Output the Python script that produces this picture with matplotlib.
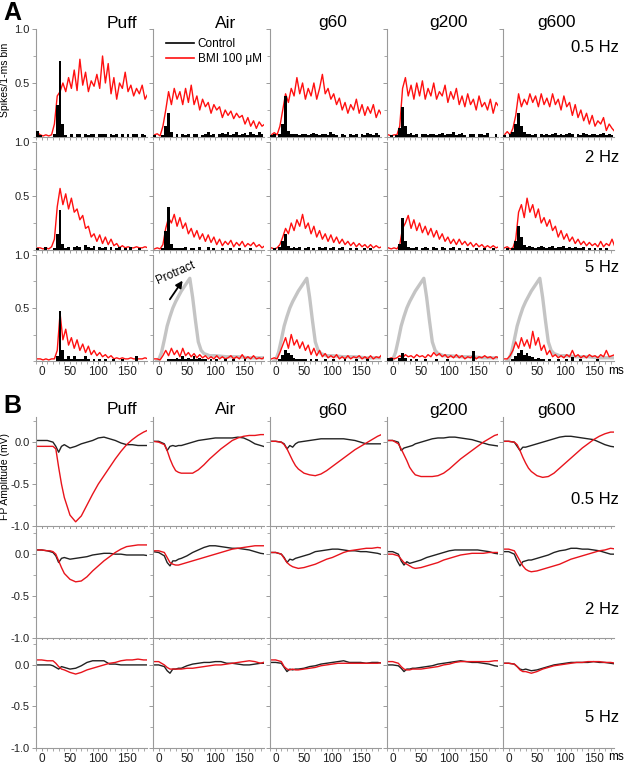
import numpy as np
import matplotlib
matplotlib.use("Agg")
import matplotlib.pyplot as plt
from matplotlib.ticker import MultipleLocator

plt.rcParams['font.family'] = ['Liberation Sans', 'DejaVu Sans']

stims = ["Puff", "Air", "g60", "g200", "g600"]
freqs = ["0.5 Hz", "2 Hz", "5 Hz"]

# ---- Panel A: PSTH, 5-ms bins starting at -10 ms (spikes per 1-ms bin) ----
bins = np.arange(-10, 190, 5)

bmi_05 = [
    [0.04,0.02,0.01,0.02,0.01,0.02,0.12,0.38,0.42,0.5, 0.42,0.55,0.45,0.62,0.43,0.72,0.48,0.6,0.42,0.52,
     0.47,0.58,0.45,0.75,0.5,0.68,0.4,0.55,0.35,0.5, 0.45,0.6,0.42,0.48,0.38,0.45,0.4,0.48,0.35,0.4],
    [0.02,0.03,0.01,0.1,0.25,0.42,0.3,0.45,0.35,0.42, 0.3,0.45,0.32,0.48,0.3,0.38,0.25,0.35,0.28,0.32,
     0.22,0.3,0.25,0.28,0.18,0.25,0.2,0.24,0.17,0.22, 0.18,0.2,0.12,0.18,0.1,0.15,0.08,0.14,0.1,0.12],
    [0.02,0.04,0.02,0.1,0.25,0.4,0.32,0.45,0.38,0.55, 0.4,0.5,0.35,0.45,0.38,0.5,0.35,0.45,0.58,0.4,
     0.45,0.35,0.4,0.3,0.36,0.25,0.32,0.22,0.3,0.25, 0.35,0.22,0.3,0.2,0.28,0.22,0.3,0.18,0.25,0.2],
    [0.02,0.01,0.02,0.02,0.1,0.45,0.55,0.38,0.48,0.35, 0.5,0.38,0.52,0.35,0.45,0.38,0.5,0.35,0.42,0.38,
     0.48,0.32,0.42,0.35,0.45,0.3,0.38,0.28,0.4,0.3, 0.35,0.25,0.38,0.28,0.32,0.25,0.35,0.22,0.32,0.28],
    [0.02,0.05,0.02,0.08,0.2,0.4,0.28,0.35,0.3,0.4, 0.32,0.38,0.28,0.4,0.3,0.36,0.28,0.4,0.3,0.35,
     0.25,0.38,0.28,0.32,0.2,0.3,0.18,0.25,0.15,0.22, 0.12,0.2,0.1,0.15,0.12,0.18,0.06,0.12,0.08,0.05],
]
bmi_2 = [
    [0.02,0.02,0.01,0.02,0.01,0.03,0.1,0.4,0.57,0.42, 0.52,0.38,0.48,0.35,0.38,0.28,0.32,0.2,0.22,0.12,
     0.15,0.08,0.14,0.06,0.12,0.05,0.1,0.04,0.06,0.02, 0.04,0.02,0.03,0.02,0.02,0.03,0.02,0.02,0.03,0.02],
    [0.01,0.02,0.01,0.05,0.2,0.3,0.25,0.33,0.22,0.3, 0.2,0.25,0.15,0.2,0.12,0.18,0.1,0.15,0.08,0.14,
     0.07,0.12,0.05,0.1,0.04,0.08,0.05,0.09,0.03,0.07, 0.04,0.08,0.03,0.06,0.04,0.07,0.03,0.05,0.02,0.04],
    [0.02,0.01,0.02,0.05,0.12,0.2,0.15,0.25,0.18,0.28, 0.22,0.33,0.2,0.25,0.15,0.22,0.12,0.18,0.1,0.15,
     0.08,0.14,0.07,0.12,0.06,0.1,0.05,0.08,0.04,0.07, 0.03,0.06,0.03,0.05,0.02,0.05,0.02,0.04,0.02,0.03],
    [0.02,0.01,0.02,0.01,0.05,0.2,0.25,0.32,0.2,0.28, 0.18,0.25,0.16,0.22,0.14,0.2,0.12,0.18,0.1,0.15,
     0.08,0.12,0.06,0.1,0.05,0.1,0.05,0.08,0.04,0.07, 0.03,0.06,0.03,0.05,0.02,0.04,0.02,0.04,0.02,0.03],
    [0.02,0.03,0.01,0.02,0.1,0.35,0.42,0.3,0.48,0.35, 0.42,0.3,0.38,0.25,0.3,0.22,0.28,0.18,0.22,0.12,
     0.18,0.1,0.15,0.08,0.12,0.06,0.1,0.05,0.08,0.04, 0.07,0.04,0.06,0.03,0.08,0.03,0.06,0.04,0.1,0.03],
]
bmi_5 = [
    [0.02,0.02,0.01,0.02,0.01,0.02,0.02,0.1,0.45,0.2, 0.3,0.15,0.22,0.12,0.2,0.1,0.16,0.08,0.14,0.06,
     0.1,0.05,0.08,0.04,0.06,0.03,0.05,0.02,0.03,0.02, 0.03,0.02,0.02,0.03,0.02,0.02,0.02,0.02,0.03,0.02],
    [0.02,0.02,0.01,0.05,0.1,0.05,0.12,0.06,0.1,0.04, 0.12,0.05,0.08,0.04,0.07,0.03,0.06,0.03,0.05,0.02,
     0.04,0.02,0.05,0.02,0.04,0.02,0.03,0.05,0.02,0.04, 0.02,0.06,0.02,0.04,0.02,0.05,0.02,0.03,0.02,0.04],
    [0.02,0.03,0.02,0.08,0.15,0.22,0.12,0.25,0.15,0.2, 0.12,0.18,0.1,0.15,0.06,0.12,0.05,0.1,0.04,0.07,
     0.03,0.05,0.03,0.06,0.02,0.04,0.02,0.05,0.02,0.04, 0.03,0.05,0.02,0.04,0.02,0.05,0.02,0.04,0.03,0.06],
    [0.02,0.03,0.02,0.03,0.05,0.03,0.06,0.04,0.05,0.03, 0.06,0.04,0.05,0.03,0.06,0.04,0.08,0.05,0.07,0.04,
     0.06,0.03,0.05,0.03,0.06,0.03,0.05,0.02,0.04,0.03, 0.05,0.02,0.04,0.03,0.05,0.03,0.04,0.02,0.04,0.03],
    [0.02,0.02,0.05,0.1,0.18,0.12,0.22,0.14,0.2,0.12, 0.28,0.15,0.22,0.1,0.15,0.06,0.1,0.04,0.06,0.03,
     0.05,0.03,0.06,0.04,0.1,0.04,0.06,0.03,0.05,0.03, 0.06,0.04,0.05,0.03,0.06,0.04,0.1,0.04,0.05,0.06],
]
ctl_05 = [
    [0.06,0.02,0,0,0,0,0.03,0.3,0.7,0.12, 0.02,0,0.03,0,0.03,0.03,0,0.03,0.02,0.03,
     0.03,0,0.03,0.03,0.03,0,0.03,0.02,0.03,0, 0.03,0,0.03,0,0.03,0.03,0,0.03,0.02,0.06],
    [0.02,0,0,0.02,0.1,0.22,0.05,0,0.03,0, 0.03,0.02,0.03,0,0.03,0.03,0,0.02,0.03,0.05,
     0.02,0.03,0,0.03,0.04,0.03,0.05,0.02,0.03,0.05, 0.02,0.03,0.04,0.02,0.05,0.03,0.02,0.05,0.03,0.02],
    [0.02,0.03,0,0.03,0.12,0.38,0.06,0.03,0.03,0.03, 0.02,0.03,0.03,0.02,0.03,0.04,0.03,0.02,0.03,0.03,
     0.02,0.05,0.03,0.02,0,0.03,0.02,0,0.03,0.02, 0.03,0,0.03,0.02,0.04,0.03,0.02,0.04,0.02,0.03],
    [0,0.02,0,0.02,0.08,0.28,0.1,0.03,0.04,0.02, 0.03,0,0.03,0.03,0.02,0.03,0.03,0.02,0.03,0.04,
     0.02,0.03,0.03,0.05,0.02,0.03,0.04,0.02,0,0.03, 0.03,0,0.03,0.03,0.02,0.04,0,0,0.03,0],
    [0.02,0,0.03,0.05,0.12,0.22,0.1,0.05,0.03,0.03, 0.02,0.03,0,0.03,0.02,0.03,0.02,0.03,0.04,0.02,
     0.03,0.02,0.03,0.04,0.03,0,0.03,0.02,0.04,0.03, 0.02,0.03,0.03,0.02,0.03,0.04,0.02,0.03,0.02,0.03],
]
ctl_2 = [
    [0.02,0,0,0.03,0,0,0.02,0.15,0.37,0.06, 0.02,0.03,0,0.03,0.04,0.03,0,0.05,0.03,0.02,
     0.04,0,0.03,0.02,0.03,0,0.03,0,0.02,0.03, 0,0.02,0,0.03,0,0,0.02,0,0,0],
    [0,0,0,0.02,0.18,0.4,0.06,0.02,0.02,0.02, 0.02,0.03,0,0.02,0.02,0,0.03,0,0,0.03,
     0,0.02,0,0,0.02,0,0,0.02,0,0, 0.02,0,0,0,0.02,0,0,0,0,0],
    [0,0.02,0,0.03,0.08,0.15,0.04,0.02,0.03,0.02, 0.03,0,0.02,0.03,0,0.02,0,0.03,0.02,0.03,
     0,0.02,0.03,0,0.02,0.03,0,0,0.02,0, 0.02,0,0,0.02,0,0.02,0,0,0,0],
    [0,0,0,0,0.06,0.3,0.08,0.03,0.02,0.02, 0.03,0,0.02,0.03,0.02,0,0.03,0.02,0,0.03,
     0.02,0,0.02,0.03,0,0.02,0,0,0.02,0, 0,0.02,0,0,0.02,0,0,0.02,0,0],
    [0,0.02,0,0.02,0.08,0.22,0.12,0.05,0.03,0.04, 0.03,0.02,0.03,0.04,0.03,0.02,0.03,0.04,0.02,0.03,
     0.03,0.04,0.02,0.03,0.02,0.03,0.02,0.02,0.03,0, 0.02,0,0.02,0,0.02,0,0.02,0,0,0.02],
]
ctl_5 = [
    [0,0,0,0,0,0,0,0.05,0.47,0.1, 0.02,0.05,0.02,0.05,0.02,0.02,0.02,0.05,0.02,0,
     0.02,0,0.02,0,0.02,0,0,0.02,0,0, 0.02,0,0,0,0,0.05,0,0,0,0],
    [0,0,0,0,0,0.02,0.02,0.02,0.03,0.02, 0.05,0.02,0.03,0.02,0.05,0.02,0.03,0.02,0.02,0,
     0.02,0,0.02,0,0,0.02,0,0,0.02,0, 0,0,0.02,0,0,0,0,0,0,0],
    [0,0,0,0.02,0.06,0.1,0.08,0.06,0.03,0.02, 0.02,0.02,0.02,0,0.02,0,0.02,0,0,0.02,
     0,0,0.02,0,0,0,0.02,0,0,0, 0.02,0,0,0,0.02,0,0,0,0,0],
    [0.03,0.03,0,0,0.03,0.08,0.03,0,0.02,0, 0.02,0,0,0.02,0,0,0,0.02,0,0,
     0,0.02,0,0,0,0,0,0,0,0, 0.09,0,0,0,0,0,0,0,0,0],
    [0,0,0,0.02,0.05,0.08,0.1,0.06,0.08,0.05, 0.04,0.02,0.03,0.02,0.02,0,0.02,0,0,0.02,
     0,0,0.02,0,0.04,0,0,0.02,0,0, 0,0,0,0.02,0,0,0,0,0,0],
]

# whisker protraction (5 Hz, scaled)
prot_t = [-3, 0, 5, 10, 15, 20, 25, 30, 35, 40, 45, 50, 55, 60, 65, 70, 75, 80, 90, 100, 120, 140, 160, 186]
prot_y = [0.0, 0.01, 0.08, 0.2, 0.33, 0.42, 0.5, 0.56, 0.61, 0.66, 0.7, 0.74, 0.78, 0.6, 0.38, 0.18, 0.1,
          0.07, 0.05, 0.05, 0.04, 0.04, 0.03, 0.03]

# ---- Panel B: field potentials (mV) ----
fp_t = [-10, 0, 10, 15, 20, 25, 30, 35, 40, 50, 60, 70, 80, 90, 100, 110, 120, 130, 140, 150, 160, 170, 180, 190]

fp_bmi_05 = [
    [-0.05,-0.05,-0.05,-0.05,-0.05,-0.08,-0.3,-0.5,-0.66,-0.87,-0.95,-0.88,-0.75,-0.62,-0.5,-0.4,-0.3,-0.2,-0.11,-0.03,0.03,0.08,0.12,0.15],
    [0.01,0.0,-0.03,-0.1,-0.2,-0.28,-0.34,-0.36,-0.37,-0.37,-0.37,-0.33,-0.27,-0.2,-0.14,-0.08,-0.03,0.02,0.05,0.07,0.08,0.08,0.09,0.09],
    [0.01,0.01,0.0,-0.03,-0.08,-0.15,-0.22,-0.28,-0.32,-0.37,-0.39,-0.4,-0.38,-0.34,-0.29,-0.24,-0.19,-0.14,-0.09,-0.05,-0.01,0.03,0.07,0.1],
    [0.02,0.02,-0.02,-0.08,-0.15,-0.22,-0.3,-0.35,-0.39,-0.41,-0.41,-0.41,-0.4,-0.37,-0.32,-0.26,-0.2,-0.15,-0.1,-0.05,0.0,0.04,0.08,0.1],
    [0.01,0.01,0.0,-0.03,-0.1,-0.18,-0.25,-0.31,-0.35,-0.4,-0.42,-0.41,-0.37,-0.31,-0.25,-0.19,-0.13,-0.07,-0.02,0.03,0.07,0.1,0.12,0.12],
]
fp_ctl_05 = [
    [0.02,0.02,0.02,0.01,0.0,-0.05,-0.12,-0.05,-0.03,-0.07,-0.05,-0.02,0.0,0.02,0.05,0.06,0.04,0.02,-0.01,-0.03,-0.03,-0.04,-0.04,-0.04],
    [0.01,0.01,-0.02,-0.1,-0.05,-0.04,-0.05,-0.04,-0.04,-0.02,0.0,0.02,0.03,0.04,0.05,0.05,0.05,0.05,0.06,0.05,0.02,-0.02,-0.04,-0.06],
    [0.01,0.01,0.0,-0.02,-0.08,-0.04,-0.06,-0.02,0.0,0.01,0.02,0.03,0.04,0.04,0.04,0.04,0.04,0.03,0.02,0.0,-0.02,-0.02,-0.02,-0.02],
    [0.02,0.02,0.0,-0.1,-0.07,-0.06,-0.05,-0.04,-0.02,0.0,0.02,0.04,0.05,0.05,0.06,0.06,0.05,0.04,0.03,0.01,-0.01,-0.03,-0.04,-0.05],
    [0.01,0.01,0.0,-0.05,-0.1,-0.06,-0.06,-0.05,-0.04,-0.02,0.0,0.02,0.04,0.06,0.07,0.07,0.06,0.05,0.04,0.03,0.0,-0.03,-0.05,-0.06],
]
fp_bmi_2 = [
    [0.05,0.05,0.04,0.04,0.03,0.0,-0.08,-0.16,-0.23,-0.3,-0.33,-0.32,-0.27,-0.2,-0.14,-0.08,-0.03,0.02,0.06,0.09,0.1,0.11,0.11,0.11],
    [0.04,0.04,0.02,-0.04,-0.1,-0.12,-0.13,-0.13,-0.12,-0.1,-0.08,-0.06,-0.04,-0.02,0.0,0.02,0.04,0.06,0.07,0.08,0.09,0.1,0.1,0.1],
    [0.02,0.02,0.0,-0.05,-0.1,-0.13,-0.15,-0.16,-0.17,-0.16,-0.14,-0.12,-0.09,-0.06,-0.04,-0.01,0.02,0.04,0.05,0.06,0.07,0.07,0.08,0.07],
    [0.0,0.0,-0.02,-0.06,-0.1,-0.12,-0.14,-0.16,-0.17,-0.16,-0.14,-0.12,-0.1,-0.07,-0.05,-0.03,-0.01,0.0,0.01,0.01,0.01,0.02,0.02,0.02],
    [0.06,0.06,0.04,-0.02,-0.08,-0.14,-0.18,-0.2,-0.21,-0.2,-0.18,-0.16,-0.14,-0.12,-0.09,-0.06,-0.04,-0.02,0.0,0.02,0.04,0.05,0.07,0.06],
]
fp_ctl_2 = [
    [0.05,0.05,0.04,0.03,0.02,-0.02,-0.1,-0.05,-0.04,-0.06,-0.05,-0.04,-0.03,-0.01,0.0,0.01,0.01,0.0,0.0,-0.01,-0.01,-0.01,-0.01,-0.02],
    [0.03,0.02,-0.02,-0.1,-0.14,-0.08,-0.08,-0.06,-0.05,-0.02,0.02,0.05,0.08,0.1,0.1,0.09,0.08,0.07,0.07,0.06,0.05,0.03,0.01,0.0],
    [0.02,0.02,0.0,-0.04,-0.1,-0.06,-0.07,-0.05,-0.04,-0.02,0.0,0.03,0.04,0.05,0.06,0.06,0.05,0.04,0.04,0.03,0.03,0.02,0.01,-0.01],
    [0.03,0.03,0.0,-0.08,-0.13,-0.09,-0.11,-0.1,-0.09,-0.07,-0.04,-0.02,0.0,0.02,0.04,0.05,0.05,0.05,0.05,0.05,0.04,0.03,0.01,0.0],
    [0.03,0.03,0.0,-0.08,-0.14,-0.09,-0.08,-0.07,-0.07,-0.05,-0.03,-0.01,0.02,0.04,0.05,0.07,0.07,0.06,0.06,0.05,0.04,0.02,0.0,0.0],
]
fp_bmi_5 = [
    [0.06,0.06,0.05,0.05,0.05,0.02,-0.02,-0.05,-0.06,-0.09,-0.11,-0.09,-0.06,-0.04,-0.02,0.0,0.02,0.03,0.05,0.06,0.06,0.07,0.06,0.06],
    [0.04,0.04,0.0,-0.03,-0.05,-0.05,-0.05,-0.05,-0.05,-0.04,-0.04,-0.03,-0.02,-0.01,0.0,0.0,0.01,0.02,0.03,0.04,0.05,0.04,0.02,0.04],
    [0.06,0.06,0.04,-0.02,-0.05,-0.06,-0.05,-0.06,-0.06,-0.05,-0.04,-0.03,-0.01,0.0,0.01,0.02,0.02,0.02,0.02,0.02,0.02,0.02,0.02,0.03],
    [0.04,0.04,0.02,-0.02,-0.05,-0.06,-0.06,-0.05,-0.05,-0.05,-0.04,-0.03,-0.02,0.0,0.01,0.03,0.04,0.04,0.04,0.04,0.04,0.04,0.05,0.05],
    [0.02,0.02,0.01,-0.02,-0.06,-0.08,-0.08,-0.09,-0.1,-0.08,-0.05,-0.03,-0.01,0.0,0.01,0.02,0.03,0.03,0.04,0.04,0.04,0.03,0.03,0.02],
]
fp_ctl_5 = [
    [0.0,0.0,0.0,0.0,-0.01,-0.03,-0.05,-0.02,-0.03,-0.05,-0.04,-0.01,0.03,0.05,0.05,0.05,0.01,0.01,0.0,0.0,0.0,0.0,0.0,0.0],
    [0.0,0.0,-0.02,-0.07,-0.1,-0.05,-0.05,-0.04,-0.04,-0.01,0.01,0.02,0.03,0.03,0.04,0.04,0.02,0.02,0.01,0.0,0.0,0.01,0.02,0.02],
    [0.03,0.03,0.02,-0.03,-0.08,-0.05,-0.06,-0.05,-0.05,-0.04,-0.02,-0.01,0.01,0.02,0.03,0.04,0.05,0.03,0.03,0.03,0.02,0.03,0.03,0.02],
    [0.0,0.0,-0.01,-0.04,-0.08,-0.05,-0.05,-0.04,-0.04,-0.03,-0.02,-0.01,0.01,0.02,0.03,0.04,0.05,0.04,0.03,0.03,0.02,0.01,-0.01,-0.02],
    [0.02,0.02,0.01,-0.02,-0.05,-0.06,-0.05,-0.06,-0.07,-0.06,-0.04,-0.02,0.0,0.01,0.02,0.03,0.03,0.03,0.03,0.04,0.03,0.03,0.02,0.01],
]

psth_bmi = [bmi_05, bmi_2, bmi_5]
psth_ctl = [ctl_05, ctl_2, ctl_5]
fp_bmi = [fp_bmi_05, fp_bmi_2, fp_bmi_5]
fp_ctl = [fp_ctl_05, fp_ctl_2, fp_ctl_5]

# layout in pixels
W, H = 625, 766
fig = plt.figure(figsize=(W / 100, H / 100), dpi=100)
col_left = [36, 153, 270, 387, 503]
col_w = 111
a_rows = [(29, 137), (142, 250), (255, 361)]
b_rows = [(417, 526), (529, 638), (640, 748)]
GREY = "#9a9a9a"
RED = "#ff1010"


def add_ax(x0, top, bot):
    return fig.add_axes([x0 / W, 1 - bot / H, col_w / W, (bot - top) / H])


def style(ax, first_col, last_row):
    for s in ["top", "right"]:
        ax.spines[s].set_visible(False)
    for s in ["left", "bottom"]:
        ax.spines[s].set_color(GREY)
        ax.spines[s].set_linewidth(0.8)
    ax.tick_params(colors=GREY, labelcolor="#222222", labelsize=8.5, length=3, width=0.7, pad=2)
    ax.tick_params(axis="y", labelsize=8, pad=1.5)
    ax.tick_params(axis="x", length=2.5, pad=1)
    ax.tick_params(which="minor", colors=GREY, length=2, width=0.6)
    ax.set_xlim(-10, 186)
    ax.xaxis.set_major_locator(MultipleLocator(50))
    ax.xaxis.set_minor_locator(MultipleLocator(10))
    ax.yaxis.set_minor_locator(MultipleLocator(0.25))
    if not first_col:
        ax.tick_params(labelleft=False)
    if not last_row:
        ax.tick_params(labelbottom=False)


def ftext(px, py, s, **kw):
    fig.text(px / W, 1 - py / H, s, **kw)


# Panel A
centers = bins + 2.5
for r in range(3):
    for c in range(5):
        ax = add_ax(col_left[c], *a_rows[r])
        style(ax, c == 0, r == 2)
        ax.set_ylim(0, 1.0)
        ax.set_yticks([0.5, 1.0])
        ax.set_yticklabels(["0.5", "1.0"])
        if r == 2 and c > 0:
            ax.plot(prot_t, prot_y, color="#c4c4c4", lw=2.4, zorder=1)
        ax.plot(centers, psth_bmi[r][c], color=RED, lw=1.0, zorder=2)
        ax.fill_between(bins, psth_ctl[r][c], step="post", color="black", lw=0, zorder=3)
        if r == 0 and c == 1:
            ax.plot([], [], color="black", lw=1.2, label="Control")
            ax.plot([], [], color=RED, lw=1.2, label="BMI 100 \u03bcM")
            ax.legend(loc="upper left", bbox_to_anchor=(0.04, 0.99), frameon=False, fontsize=8.5,
                      handlelength=2.4, handletextpad=0.3, labelspacing=0.25, borderpad=0.2)
        if r == 2 and c == 1:
            ax.annotate("", xy=(45, 0.78), xytext=(17, 0.56),
                        arrowprops=dict(arrowstyle="-|>", color="black", lw=1.3, mutation_scale=10))
            ax.text(30, 0.83, "Protract", rotation=24, ha="center", va="center", fontsize=8.5)

# Panel B
for r in range(3):
    for c in range(5):
        ax = add_ax(col_left[c], *b_rows[r])
        style(ax, c == 0, r == 2)
        ax.set_ylim(-1.0, 0.3)
        ax.set_yticks([-1.0, -0.5, 0.0])
        ax.set_yticklabels(["-1.0", "-0.5", "0.0"])
        ax.plot(fp_t, fp_ctl[r][c], color="#222222", lw=1.0)
        ax.plot(fp_t, fp_bmi[r][c], color="#e8141c", lw=1.0)

# titles and labels
title_x = [122, 226, 333, 448, 557]
for c in range(5):
    ftext(title_x[c], 23, stims[c], ha="center", va="center", fontsize=12.5)
    ftext(title_x[c], 410, stims[c], ha="center", va="center", fontsize=12.5)

for py, s in zip([47, 157, 267], freqs):
    ftext(619, py, s, ha="right", va="center", fontsize=12)
for py, s in zip([499, 609, 718], freqs):
    ftext(619, py, s, ha="right", va="center", fontsize=12)

ftext(3, 13, "A", fontsize=18, fontweight="bold", va="center", ha="left")
ftext(3, 406, "B", fontsize=18, fontweight="bold", va="center", ha="left")
ftext(5.5, 80, "Spikes/1-ms bin", rotation=90, ha="center", va="center", fontsize=7.5)
ftext(5.5, 476, "FP Amplitude (mV)", rotation=90, ha="center", va="center", fontsize=7.5)
ftext(608, 371, "ms", ha="left", va="center", fontsize=8.5)
ftext(608, 757, "ms", ha="left", va="center", fontsize=8.5)

fig.savefig("out.png", dpi=100)
